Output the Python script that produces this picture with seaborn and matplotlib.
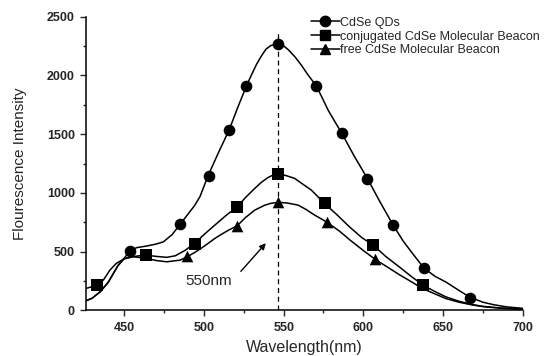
import numpy as np
import pandas as pd
import matplotlib
matplotlib.use("Agg")
import matplotlib.pyplot as plt
from matplotlib.lines import Line2D
from matplotlib.ticker import MultipleLocator
import seaborn as sns

# spectra (wavelength nm, intensity)
qd_wl = [426, 430, 435, 440, 443, 446, 450, 453.75, 458, 464, 470, 474.6, 480, 485, 490,
         494, 497.5, 502.7, 509, 515.8, 521, 526.7, 530, 533, 536, 539, 542, 546.5, 550,
         553, 557, 561, 565, 570.4, 574, 578, 582, 586.5, 594, 602.5, 610, 618.5, 625,
         630, 638, 645, 652, 660, 667, 675, 682, 690, 700]
qd_int = [82, 105, 160, 240, 310, 380, 445, 510, 535, 548, 565, 584, 645, 732, 820,
          890, 968, 1150, 1340, 1536, 1720, 1913, 2010, 2095, 2165, 2225, 2255, 2268, 2252,
          2218, 2160, 2090, 2010, 1913, 1815, 1702, 1610, 1508, 1320, 1124, 935, 730, 590,
          500, 360, 290, 240, 170, 111, 70, 48, 30, 18]

conj_wl = [426, 433, 437, 441, 445, 450, 455, 463.5, 470, 476.7, 482, 488, 493.9, 500,
           506.9, 514, 521, 526, 531.9, 536, 540, 543, 546.5, 551, 556.9, 562, 567.3, 571,
           575.6, 583, 591.25, 599, 606.25, 614, 622.5, 630, 637.5, 645, 651.7, 660, 668,
           675, 685, 700]
conj_int = [187, 215, 260, 343, 400, 440, 458, 471, 460, 452, 465, 510, 567, 645,
            727, 810, 883, 960, 1039, 1090, 1130, 1150, 1158, 1150, 1124, 1075, 1025, 975,
            911, 820, 712, 620, 556, 460, 371, 290, 215, 160, 116, 78, 50,
            35, 22, 10]

free_wl = [426, 430, 435, 440, 443, 446, 450, 455.8, 464, 470, 476.7, 485, 489.6, 495,
           500, 506.9, 510, 515, 521, 526, 531.9, 538, 542, 546.5, 552, 559, 564, 569.4,
           576.7, 585, 592, 600, 607.5, 615, 622.5, 630, 637, 645, 652, 660, 668, 675,
           685, 700]
free_int = [82, 105, 160, 240, 310, 380, 440, 457, 443, 425, 414, 428, 457, 500,
            545, 613, 640, 680, 722, 790, 854, 895, 912, 920, 915, 897, 860, 812,
            755, 675, 595, 510, 434, 370, 305, 245, 187, 140, 100, 70, 48, 32,
            20, 8]

# marker positions
qd_mx = [453.75, 485, 503, 515.6, 526.7, 546.5, 570.6, 586.5, 602.5, 618.5, 638, 667.2]
qd_my = [510, 732, 1148, 1536, 1913, 2268, 1913, 1508, 1122, 730, 360, 110]
conj_mx = [433, 463.5, 494.2, 521, 546.5, 575.8, 606.3, 637.4]
conj_my = [214, 471, 568, 882, 1160, 911, 559, 214]
free_mx = [489.6, 521, 546.5, 577, 607.6]
free_my = [460, 722, 920, 754, 434]

labels = ["CdSe QDs", "conjugated CdSe Molecular Beacon", "free CdSe Molecular Beacon"]
markers = ["o", "s", "^"]

sns.set_theme(style="ticks")
plt.rcParams["font.family"] = ["Liberation Sans", "DejaVu Sans"]

fig = plt.figure(figsize=(5.44, 3.56), dpi=100)
ax = fig.add_axes([0.158, 0.128, 0.803, 0.825])

curves = [(qd_wl, qd_int, qd_mx, qd_my), (conj_wl, conj_int, conj_mx, conj_my),
          (free_wl, free_int, free_mx, free_my)]
for (wl, it, mx, my), m in zip(curves, markers):
    sns.lineplot(x=wl, y=it, ax=ax, color="black", linewidth=1.1, sort=False, estimator=None)
    sns.scatterplot(x=mx, y=my, ax=ax, color="black", marker=m, s=70, edgecolor="black",
                    linewidth=0, zorder=3)

# peak marker line and annotation
ax.vlines(546.5, 0, 2390, colors="black", linestyles=(0, (4, 3)), linewidth=0.9)
ax.annotate("", xy=(540, 590), xytext=(522, 315),
            arrowprops=dict(arrowstyle="-|>", color="black", lw=1, mutation_scale=9))
ax.text(503, 250, "550nm", fontsize=11, ha="center", va="center")

ax.set_xlim(426, 700)
ax.set_ylim(0, 2500)
ax.xaxis.set_major_locator(MultipleLocator(50))
ax.xaxis.set_minor_locator(MultipleLocator(25))
ax.yaxis.set_major_locator(MultipleLocator(500))
ax.yaxis.set_minor_locator(MultipleLocator(250))
ax.tick_params(which="major", direction="out", length=4.5, width=1, labelsize=9)
ax.tick_params(which="minor", direction="out", length=2.5, width=1)
for lab in ax.get_xticklabels() + ax.get_yticklabels():
    lab.set_fontweight("bold")
for s in ["top", "right"]:
    ax.spines[s].set_visible(False)
for s in ["left", "bottom"]:
    ax.spines[s].set_linewidth(1.1)
    ax.spines[s].set_color("black")

ax.set_xlabel("Wavelength(nm)", fontsize=11.5, labelpad=5)
ax.set_ylabel("Flourescence Intensity", fontsize=11, labelpad=14)

handles = [Line2D([], [], color="black", marker=m, markersize=7.5, linewidth=1.1)
           for m in markers]
ax.legend(handles, labels, loc="upper left", bbox_to_anchor=(0.515, 1.0), frameon=False,
          fontsize=9, handlelength=2.3, handletextpad=0.05, labelspacing=0.15,
          borderpad=0, borderaxespad=0)

fig.savefig("out.png", dpi=100)
